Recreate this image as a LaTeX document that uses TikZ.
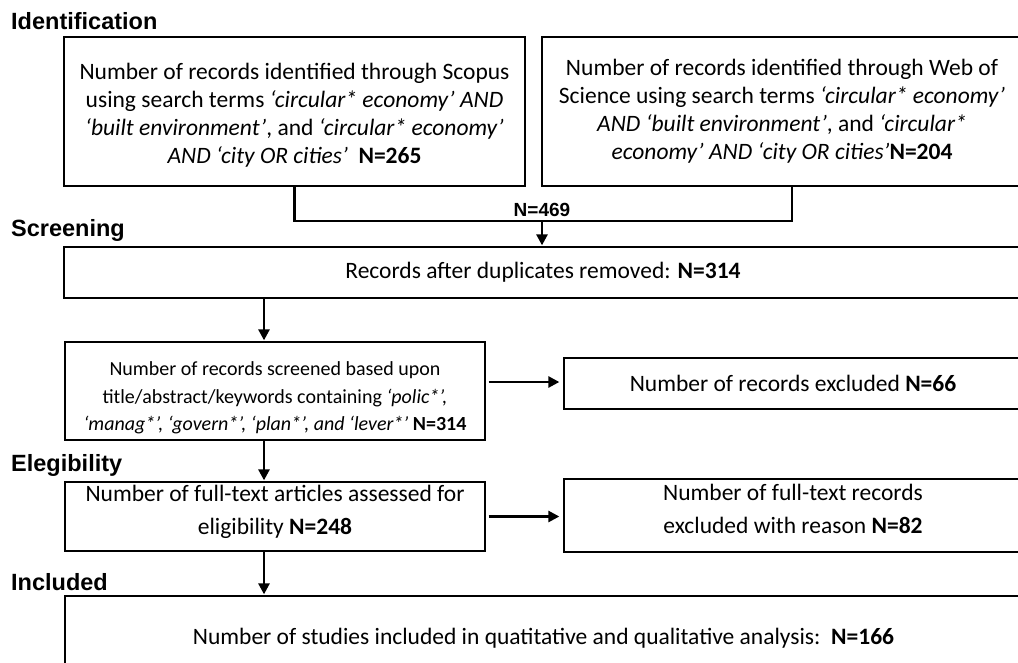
\documentclass[tikz,border=0pt]{standalone}
\usepackage{fontspec}
\setmainfont{Carlito}
\newfontfamily\headfont{Liberation Sans}
\usetikzlibrary{arrows.meta}
\begin{document}
\begin{tikzpicture}[x=1pt,y=-1pt,
  box/.style={draw=black, line width=1.3pt, fill=white, align=center,
    inner sep=0pt, anchor=center},
  txt23/.style={font=\fontsize{23.5}{28}\selectfont},
  txt23w/.style={font=\fontsize{23.5}{33}\selectfont},
  txt20/.style={font=\fontsize{20}{27.5}\selectfont},
  stage/.style={font=\headfont\bfseries\fontsize{23.5}{27}\selectfont,
    anchor=west, inner sep=0pt},
  total/.style={font=\headfont\bfseries\fontsize{19}{22}\selectfont,
    inner sep=0pt},
  link/.style={line width=2.6pt},
  flow/.style={link, -{Triangle[length=11pt,width=11pt]}, shorten >=1pt}
]
\useasboundingbox (0,0) rectangle (1018,662);
\clip (0,0) rectangle (1018,662);
\fill[white] (0,0) rectangle (1018,662);

% stage headings
\node[stage] (hid)  at (11,21)  {Identification};
\node[stage] (hscr) at (11,230) {Screening};
\node[stage] (hel)  at (11,465) {Elegibility};
\node[stage] (hinc) at (11,582) {Included};

% identification sources
\node[box, txt23, minimum width=461pt, minimum height=149pt] (scopus) at (294.5,111.5)
  {\rule{0pt}{24pt}Number of records identified through Scopus\\
   using search terms \textit{‘circular* economy’ AND}\\
   \textit{‘built environment’}, and \textit{‘circular* economy’}\\
   \textit{AND ‘city OR cities’}\hspace{0.45em}\textbf{N=265}};
\node[box, txt23, minimum width=480pt, minimum height=149pt] (wos) at (782,111.5)
  {Number of records identified through Web of\\
   Science using search terms \textit{‘circular* economy’}\\
   \textit{AND ‘built environment’}, and \textit{‘circular*}\\
   \textit{economy’ AND ‘city OR cities’}\textbf{N=204}};

% screening
\node[box, txt23, minimum width=958pt, minimum height=51pt] (dedup) at (543,272.5)
  {Records after duplicates removed: \textbf{N=314}};
\node[box, txt20, minimum width=420pt, minimum height=98pt] (screen) at (275,391)
  {\rule{0pt}{28pt}Number of records screened based upon\\
   title/abstract/keywords containing \textit{‘polic*’,}\\
   \textit{‘manag*’, ‘govern*’, ‘plan*’, and ‘lever*’} \textbf{N=314}};
\node[box, txt23, minimum width=458pt, minimum height=51pt] (excl) at (793,383.5)
  {Number of records excluded \textbf{N=66}};

% eligibility
\node[box, txt23w, minimum width=420pt, minimum height=69pt] (full) at (275,516.5)
  {Number of full-text articles assessed for\\ eligibility \textbf{N=248}\rule[-13pt]{0pt}{13pt}};
\node[box, txt23w, minimum width=458pt, minimum height=73pt] (fullx) at (793,515.5)
  {Number of full-text records\\ excluded with reason \textbf{N=82}\rule[-13pt]{0pt}{13pt}};

% included
\node[box, txt23, minimum width=957pt, minimum height=84pt] (incl) at (543.5,638)
  {Number of studies included in quatitative and qualitative analysis:\hspace{0.45em}\textbf{N=166}};

% merging the two sources
\coordinate (merge) at (542,221);
\coordinate (wosfoot) at (792,186);
\draw[link] (scopus.south) |- (merge) -| (wosfoot);
\draw[flow] (merge) -- (merge |- dedup.north);
\node[total, anchor=south] (sum) at ([yshift=4pt]merge) {N=469};

% main column
\coordinate (col) at (264,0);
\draw[flow] (dedup.south -| col) -- (screen.north -| col);
\draw[flow] ([yshift=0.6pt]screen.south -| col) -- (full.north -| col);
\draw[flow] ([yshift=0.6pt]full.south -| col) -- (incl.north -| col);

% exclusions
\coordinate (r1) at (0,382);
\draw[flow, shorten <=3pt, shorten >=4pt] (screen.east |- r1) -- (excl.west |- r1);
\draw[flow, shorten <=3pt, shorten >=4pt] (full.east) -- (fullx.west |- full.east);
\end{tikzpicture}
\end{document}
